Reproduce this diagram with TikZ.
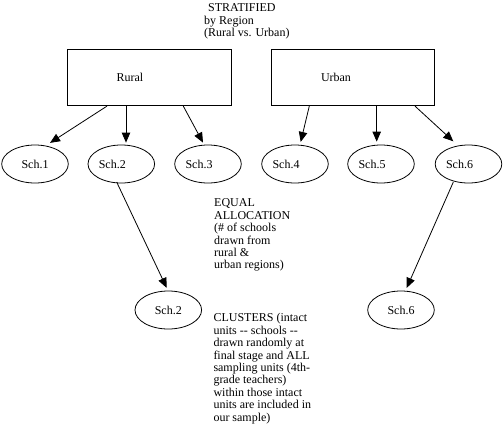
\documentclass[tikz,border=0pt]{standalone}
\usepackage{fontspec}
\setmainfont{Liberation Serif}
\usetikzlibrary{shapes.geometric,arrows.meta}
\tikzset{
  regionbox/.style={draw, line width=0.8pt, minimum width=163.5pt, minimum height=56.4pt, inner sep=0pt},
  school/.style={draw, ellipse, line width=0.8pt, minimum width=66.6pt, minimum height=38pt, inner sep=0pt},
  arr/.style={-{Triangle[length=10pt,width=8.5pt]}, line width=0.8pt},
  note/.style={align=left, anchor=north west, inner sep=0pt}
}
\begin{document}
\begin{tikzpicture}[x=1pt,y=-1pt, font=\fontsize{12}{12.4}\selectfont]
\useasboundingbox (0,0) rectangle (504,429);
% title notes
\node[note] (strat) at (204,3.8) {\hspace*{4pt}STRATIFIED\\by Region\\(Rural vs. Urban)};
% region boxes
\node[regionbox] (rural) at (149.5,77.5) {Rural\hspace*{39pt}};
\node[regionbox] (urban) at (352.8,77.5) {Urban\hspace*{33.6pt}};
% schools
\node[school] (s1) at (35,164) {Sch.1};
\node[school] (s2) at (121.3,164) {Sch.2\hspace*{18pt}};
\node[school] (s3) at (208,164) {Sch.3\hspace*{18pt}};
\node[school] (s4) at (295,164) {Sch.4\hspace*{18pt}};
\node[school] (s5) at (381,164) {Sch.5\hspace*{18pt}};
\node[school] (s6) at (468.5,164) {Sch.6\hspace*{18pt}};
\node[school] (c2) at (168.3,310) {Sch.2};
\node[school] (c6) at (401,310) {Sch.6};
% arrows from rural
\draw[arr] ([xshift=-42.5pt]rural.south) -- ([xshift=15pt,yshift=1.7pt]s1.north);
\draw[arr] ([xshift=-23.5pt]rural.south) -- ([xshift=4.7pt,yshift=2pt]s2.north);
\draw[arr] ([xshift=33.8pt]rural.south) -- ([xshift=-5pt,yshift=2pt]s3.north);
% arrows from urban
\draw[arr] ([xshift=-43.5pt]urban.south) -- ([xshift=5.7pt,yshift=2.7pt]s4.north);
\draw[arr] ([xshift=23.9pt]urban.south) -- ([xshift=-4.3pt,yshift=3pt]s5.north);
\draw[arr] ([xshift=62.2pt]urban.south) -- ([xshift=-15.2pt,yshift=3.3pt]s6.north);
% cluster arrows
\draw[arr] ([xshift=-4.6pt,yshift=1.3pt]s2.south) -- ([xshift=-1.6pt,yshift=2.7pt]c2.north);
\draw[arr] ([xshift=-15.2pt,yshift=1.3pt]s6.south) -- ([xshift=5.7pt,yshift=2.7pt]c6.north);
% notes
\node[note] (equal) at (214,198.8) {EQUAL\\ALLOCATION\\(\# of schools\\drawn from\\rural \&\\urban regions)};
\node[note] (clusters) at (213.3,313.4) {CLUSTERS (intact\\units {-}{-} schools {-}{-}\\drawn randomly at\\final stage and ALL\\sampling units (4th-\\grade teachers)\\within those intact\\units are included in\\our sample)};
\end{tikzpicture}
\end{document}
